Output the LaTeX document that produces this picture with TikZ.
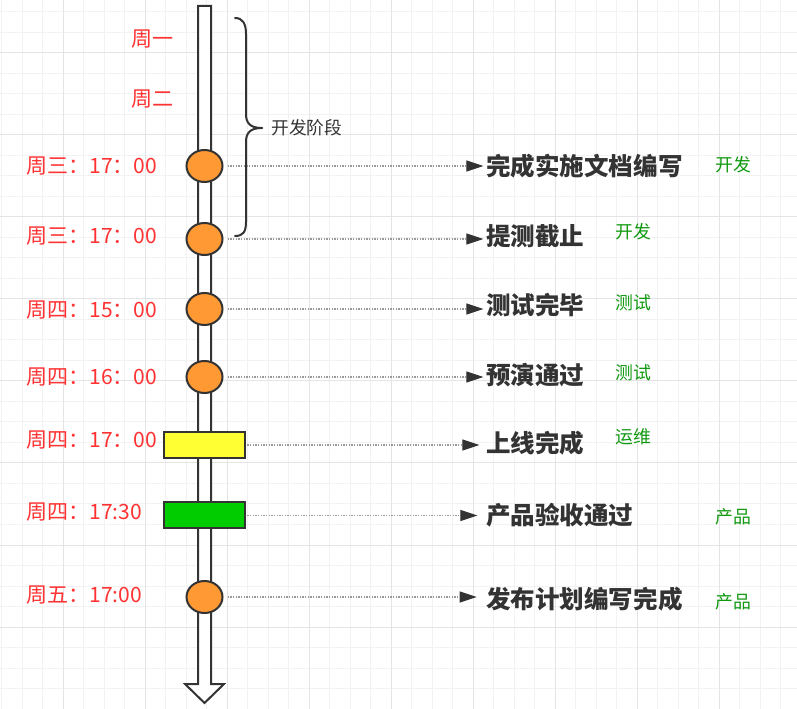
\documentclass[tikz,border=0pt]{standalone}
\usepackage{fontspec}
\setmainfont{Noto Sans CJK SC}
\usetikzlibrary{arrows.meta,shapes.geometric}
\definecolor{ink}{HTML}{333333}
\definecolor{tred}{HTML}{FF3333}
\definecolor{tgreen}{HTML}{119911}
\definecolor{dotgray}{HTML}{999999}
\definecolor{orangefill}{HTML}{FF9933}
\definecolor{yellowfill}{HTML}{FFFF33}
\definecolor{greenfill}{HTML}{00CC00}
\definecolor{gridminor}{HTML}{F2F2F2}
\definecolor{gridmajor}{HTML}{E4E4E4}
\tikzset{
  px/.style={x=0.75pt,y=-0.75pt},
  redlbl/.style={text=tred,font=\fontsize{15.8pt}{15.8pt}\selectfont,inner sep=0pt,anchor=west},
  blklbl/.style={text=ink,font=\fontsize{18.4pt}{18.4pt}\selectfont\bfseries,inner sep=0pt,anchor=west},
  grnlbl/.style={text=tgreen,font=\fontsize{13.4pt}{13.4pt}\selectfont,inner sep=0pt,anchor=west},
  dot/.style={ellipse,draw=ink,line width=1.5pt,fill=orangefill,minimum width=27pt,minimum height=24pt,inner sep=0pt},
  bar/.style={rectangle,draw=ink,line width=1.5pt,minimum width=60.75pt,minimum height=19.5pt,inner sep=0pt},
  conn/.style={draw=dotgray,line width=0.9pt,dash pattern=on 1.1pt off 0.9pt,
    -{Triangle[length=12.75pt,width=8.25pt,fill=ink,color=ink]},shorten >=2pt},
  bracepath/.style={draw=ink,line width=1.5pt,line cap=round}
}
\begin{document}
\begin{tikzpicture}[px]
\useasboundingbox (0,0) rectangle (797,709);
\fill[white] (0,0) rectangle (797,709);
% grid
\foreach \i in {0,...,38} {
  \draw[gridminor,line width=0.75pt] ({1.5+20.5*\i},0) -- ({1.5+20.5*\i},709);
}
\foreach \i in {0,...,34} {
  \draw[gridminor,line width=0.75pt] (0,{12+20.5*\i}) -- (797,{12+20.5*\i});
}
\foreach \i in {0,...,9} {
  \draw[gridmajor,line width=0.75pt] ({-19+82*\i},0) -- ({-19+82*\i},709);
}
\foreach \i in {0,...,8} {
  \draw[gridmajor,line width=0.75pt] (0,{-29+82*\i}) -- (797,{-29+82*\i});
}
% timeline arrow
\draw[ink,fill=white,line width=1.5pt,line join=miter]
  (198,6) -- (211,6) -- (211,684) -- (224,684) -- (204.5,703) -- (185,684) -- (198,684) -- cycle;
% markers
\node[dot] (c1) at (204.5,166) {};
\node[dot] (c2) at (204.5,239) {};
\node[dot] (c3) at (204.5,309) {};
\node[dot] (c4) at (204.5,377) {};
\node[bar,fill=yellowfill] (r5) at (204.5,445) {};
\node[bar,fill=greenfill] (r6) at (204.5,515.5) {};
\node[dot] (c7) at (204.5,597) {};
% left labels
\node[redlbl] (w1) at (131,39) {周一};
\node[redlbl] (w2) at (131,99) {周二};
\node[redlbl] (d1) at (26,166) {周三：17：00};
\node[redlbl] (d2) at (26,236) {周三：17：00};
\node[redlbl] (d3) at (26,310) {周四：15：00};
\node[redlbl] (d4) at (26,377) {周四：16：00};
\node[redlbl] (d5) at (26,440) {周四：17：00};
\node[redlbl] (d6) at (26,512) {周四：17:30};
\node[redlbl] (d7) at (26,595) {周五：17:00};
% right labels
\node[blklbl] (t1) at (486,166) {完成实施文档编写};
\node[blklbl] (t2) at (486,236) {提测截止};
\node[blklbl] (t3) at (486,305) {测试完毕};
\node[blklbl] (t4) at (486,375) {预演通过};
\node[blklbl] (t5) at (486,443) {上线完成};
\node[blklbl] (t6) at (486,515) {产品验收通过};
\node[blklbl] (t7) at (486,599) {发布计划编写完成};
% role labels
\node[grnlbl] (g1) at (715,165) {开发};
\node[grnlbl] (g2) at (615,232) {开发};
\node[grnlbl] (g3) at (615,303) {测试};
\node[grnlbl] (g4) at (615,373) {测试};
\node[grnlbl] (g5) at (615,437) {运维};
\node[grnlbl] (g6) at (715,517) {产品};
\node[grnlbl] (g7) at (715,602) {产品};
% connectors
\draw[conn] ([xshift=3pt]c1.east) -- (c1.east -| t1.west);
\draw[conn] ([xshift=3pt]c2.east) -- (c2.east -| t2.west);
\draw[conn] ([xshift=3pt]c3.east) -- (c3.east -| t3.west);
\draw[conn] ([xshift=3pt]c4.east) -- (c4.east -| t4.west);
\draw[conn] ([xshift=1pt]r5.east) -- ([xshift=-3pt]r5.east -| t5.west);
\draw[conn] ([xshift=1pt]r6.east) -- ([xshift=-4.5pt]r6.east -| t6.west);
\draw[conn] ([xshift=3pt]c7.east) -- ([xshift=-5pt]c7.east -| t7.west);
% brace
\draw[bracepath] (235,18) .. controls (243,18) and (246,24) .. (246,34) -- (246,114)
  .. controls (246,123) and (250,128) .. (262,128);
\draw[bracepath] (262,128) .. controls (250,128) and (246,133) .. (246,142) -- (246,222)
  .. controls (246,232) and (243,236) .. (235,236);
\node[text=ink,font=\fontsize{13.3pt}{13.3pt}\selectfont,inner sep=0pt,anchor=west] (stage) at (271,128) {开发阶段};
\end{tikzpicture}
\end{document}
